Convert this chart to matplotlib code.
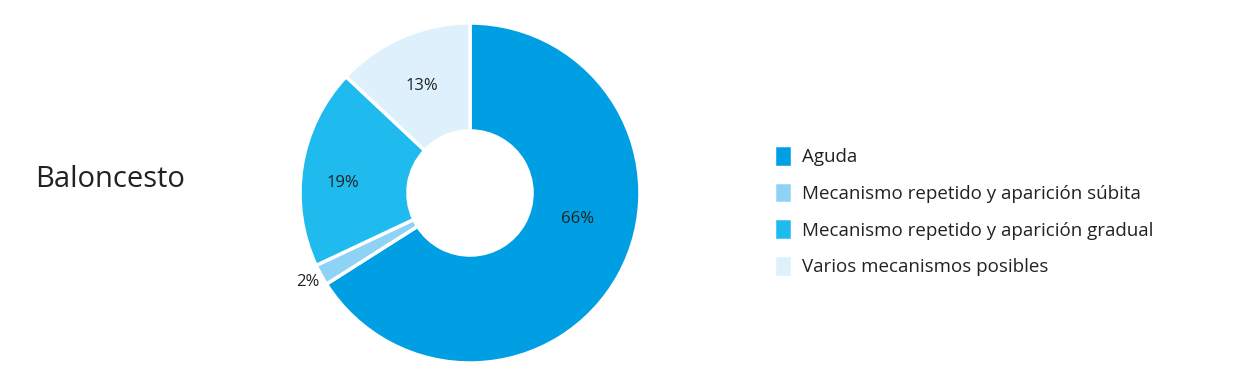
import numpy as np
import matplotlib.pyplot as plt

categorias = ["Aguda",
              "Mecanismo repetido y aparición súbita",
              "Mecanismo repetido y aparición gradual",
              "Varios mecanismos posibles"]
valores = [66, 2, 19, 13]
colores = ["#009fe3", "#8ed3f5", "#1fbaee", "#def0fc"]
titulo = "Baloncesto"

plt.rcParams['font.family'] = ['Open Sans', 'DejaVu Sans']

fig = plt.figure(figsize=(12.6, 3.87), dpi=100)
ax = fig.add_axes([0.2381, 0.062, 0.2698, 0.8786])

wedges, _ = ax.pie(valores, colors=colores, startangle=90, counterclock=False,
                   radius=1.0, wedgeprops=dict(width=0.635, edgecolor='white', linewidth=2.5))
ax.set_xlim(-1, 1)
ax.set_ylim(-1, 1)
ax.set_aspect('auto')

# percent labels: radial distance and small angle nudge per label
dist = [0.65, 1.09, 0.75, 0.69]
nudge = [15.3, 0, 4.5, 0.8]
for w, v, d, n in zip(wedges, valores, dist, nudge):
    ang = np.deg2rad((w.theta1 + w.theta2) / 2 + n)
    ax.text(d * np.cos(ang), d * np.sin(ang), f"{v}%", ha='center', va='center',
            fontsize=12, color='#222222')

fig.text(0.028, 0.535, titulo, fontsize=21, color='#222222', va='center', ha='left')

fig.legend(wedges, categorias, loc='upper left', bbox_to_anchor=(0.614, 0.625),
           frameon=False, fontsize=13.5, handlelength=1.0, handleheight=1.4,
           handletextpad=0.5, labelspacing=0.8, borderpad=0, borderaxespad=0,
           labelcolor='#222222')

fig.savefig("out.png", dpi=100)
